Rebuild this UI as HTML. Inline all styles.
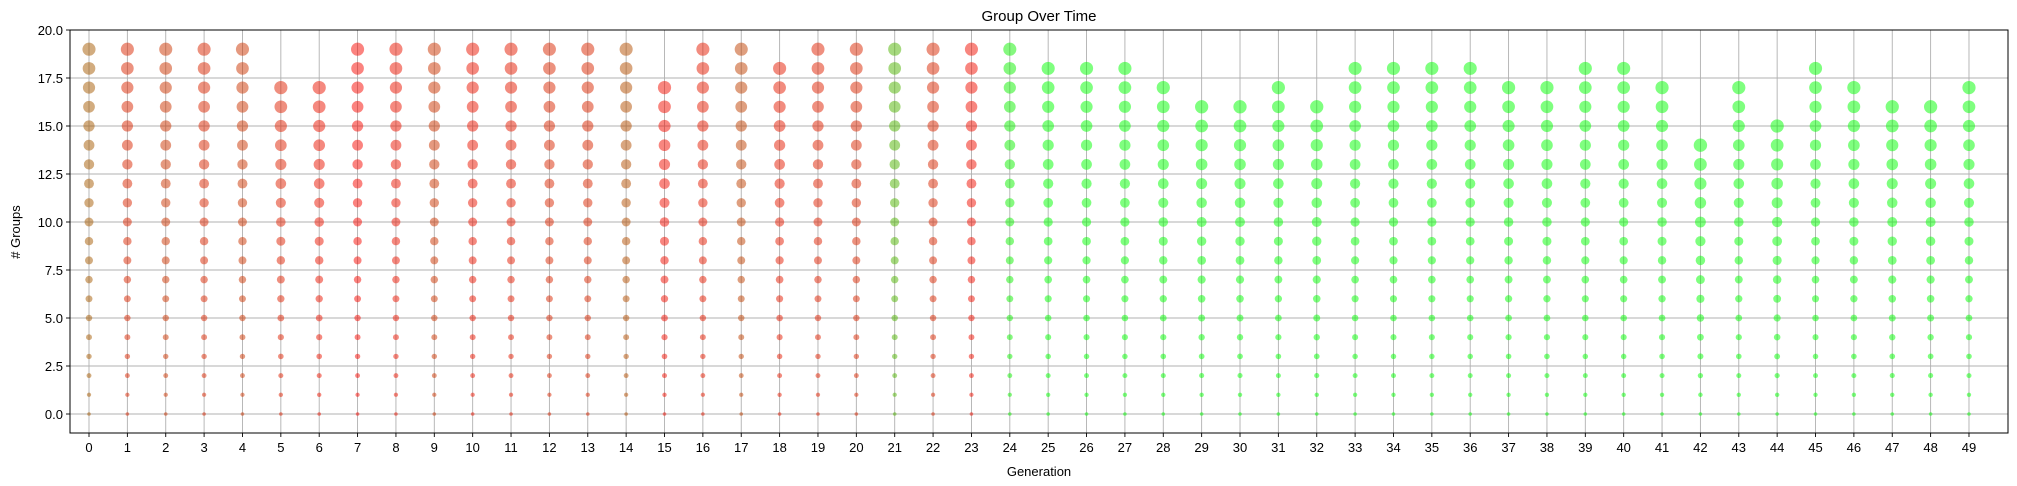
<!DOCTYPE html>
<html><head><meta charset="utf-8"><style>
html,body{margin:0;padding:0;background:#fff;}
svg{display:block;font-family:"Liberation Sans","DejaVu Sans",sans-serif;}
</style></head><body>
<svg id="chart" width="2017" height="486" viewBox="0 0 2017 486">
<text x="1039" y="21" text-anchor="middle" font-size="15">Group Over Time</text>
<text x="1039" y="476" text-anchor="middle" font-size="13">Generation</text>
<text transform="translate(20,232) rotate(-90)" text-anchor="middle" font-size="13"># Groups</text>
<g id="grid"></g>
<g id="marks"></g>
<g id="axes"></g>
</svg>
<script>
const generations = Array.from({length:50},(_,i)=>i);
const topGroup = [19,19,19,19,19,17,17,19,19,19,19,19,19,19,19,17,19,19,18,19,19,19,19,19,19,18,18,18,17,16,16,17,16,18,18,18,18,17,17,18,18,17,14,17,15,18,17,16,16,17];
const greenness = [0.35,0.15,0.2,0.15,0.2,0.12,0.08,0.03,0.08,0.2,0.08,0.1,0.15,0.15,0.3,0.05,0.1,0.25,0.1,0.12,0.15,0.7,0.15,0.05,0.95,1,1,1,1,1,1,1,1,1,1,1,1,1,1,1,1,1,1,1,1,1,1,1,1,1];
const yTicks = [0,2.5,5,7.5,10,12.5,15,17.5,20];

const NS="http://www.w3.org/2000/svg";
const L=70,R=2008,T=30,B=433;
const xs=g=>89+(g)*38.367;
const ys=v=>414-v*19.2;
function mk(tag,attrs,parent){const e=document.createElementNS(NS,tag);for(const k in attrs)e.setAttribute(k,attrs[k]);parent.appendChild(e);return e;}
const grid=document.getElementById('grid'),marks=document.getElementById('marks'),axes=document.getElementById('axes');
generations.forEach(g=>{
  const l=mk('line',{x1:xs(g),x2:xs(g),y1:T,y2:B,stroke:'#b0b0b0','stroke-width':0.9},grid);
  
  
  const t=mk('line',{x1:xs(g),x2:xs(g),y1:B,y2:B+4,stroke:'#000','stroke-width':0.9},axes);
  
  
  const tx=mk('text',{x:xs(g),y:B+19,'text-anchor':'middle','font-size':13},axes);
  tx.textContent=String(g);
  
  
});
yTicks.forEach(v=>{
  const l=mk('line',{x1:L,x2:R,y1:ys(v),y2:ys(v),stroke:'#b0b0b0','stroke-width':0.9},grid);
  
  
  const t=mk('line',{x1:L-4,x2:L,y1:ys(v),y2:ys(v),stroke:'#000','stroke-width':0.9},axes);
  
  
  const tx=mk('text',{x:L-7,y:ys(v)+5,'text-anchor':'end','font-size':13},axes);
  tx.textContent=v.toFixed(1);
  
  
});
generations.forEach((g,gi)=>{
  const top=topGroup[gi], gr=greenness[gi];
  const col=`rgba(${Math.round(255*(1-gr))},${Math.round(255*gr)},0,0.5)`;
  for(let i=0;i<=top;i++){
    const r=1.8+5*Math.pow(i/19,0.9)*(19/Math.max(top,14))*0.95;
    const c=mk('circle',{cx:xs(g),cy:ys(i),r:r,fill:col},marks);
    
    
  }
});
const frame=mk('rect',{x:L,y:T,width:R-L,height:B-T,fill:'none',stroke:'#000','stroke-width':1},axes);


</script>
</body></html>
